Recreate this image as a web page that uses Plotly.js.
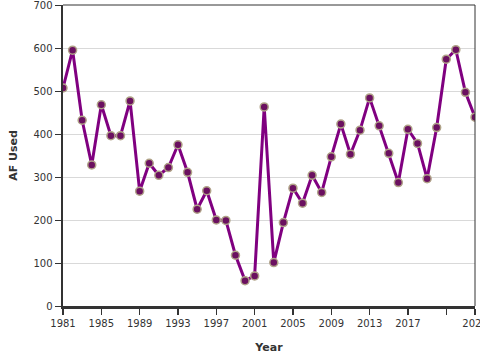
<!DOCTYPE html>
<html>
<head>
<meta charset="utf-8">
<script src="https://cdn.plot.ly/plotly-3.0.1.min.js"></script>
<style>html,body{margin:0;padding:0;background:#fff;}#chart{width:480px;height:360px;}</style>
</head>
<body>
<div id="chart"></div>
<script>
const years = [1981,1982,1983,1984,1985,1986,1987,1988,1989,1990,1991,1992,1993,1994,1995,1996,1997,1998,1999,2000,2001,2002,2003,2004,2005,2006,2007,2008,2009,2010,2011,2012,2013,2014,2015,2016,2017,2018,2019,2020,2021,2022,2023,2024];
const afUsed = [507,595,432,328,468,396,396,477,267,332,304,322,375,311,225,268,200,199,118,59,70,463,101,194,274,239,304,264,347,423,353,409,484,419,355,287,411,378,296,415,574,596,497,439];
const tickVals = [1981,1985,1989,1993,1997,2001,2005,2009,2013,2017,2021,2024];
const tickText = ['1981','1985','1989','1993','1997','2001','2005','2009','2013','2017','','2024'];
const yTickVals = [0,100,200,300,400,500,600,700];

const trace = {
  x: years, y: afUsed, type: 'scatter', mode: 'lines+markers',
  line: {color: '#800080', width: 3},
  marker: {color: '#6b1060', size: 8, line: {color: '#b0a388', width: 1.5}},
  hoverinfo: 'skip'
};
const layout = {
  width: 480, height: 360,
  margin: {l: 63, r: 5, t: 5, b: 54},
  paper_bgcolor: '#fff', plot_bgcolor: '#fff',
  font: {family: 'DejaVu Sans, Verdana, sans-serif', size: 10, color: '#333'},
  showlegend: false,
  xaxis: {
    range: [1981, 2024], tickvals: tickVals, ticktext: tickText,
    ticks: 'outside', ticklen: 6, tickwidth: 1.5, tickcolor: '#333',
    ticklabeloverflow: 'allow',
    showgrid: false, zeroline: false,
    showline: true, linecolor: '#333', linewidth: 2.5,
    title: {text: 'Year', font: {size: 11, color: '#333', weight: 'bold'}, standoff: 16},
    tickfont: {size: 10, color: '#333'}
  },
  yaxis: {
    range: [0, 700], tickvals: yTickVals,
    ticks: 'outside', ticklen: 6, tickwidth: 1, tickcolor: '#333',
    ticklabeloverflow: 'allow',
    showgrid: true, gridcolor: '#d9d9d9', gridwidth: 1, zeroline: false,
    showline: true, linecolor: '#333', linewidth: 2.5,
    title: {text: 'AF Used', font: {size: 11, color: '#333', weight: 'bold'}, standoff: 14},
    tickfont: {size: 10, color: '#333'}
  },
  shapes: [
    {type: 'line', xref: 'paper', yref: 'paper', x0: 0, x1: 1, y0: 1, y1: 1, line: {color: '#333', width: 1}},
    {type: 'line', xref: 'paper', yref: 'paper', x0: 1, x1: 1, y0: 0, y1: 1, line: {color: '#333', width: 1}}
  ]
};
Plotly.newPlot('chart', [trace], layout, {displayModeBar: false, staticPlot: true});
</script>
</body>
</html>
